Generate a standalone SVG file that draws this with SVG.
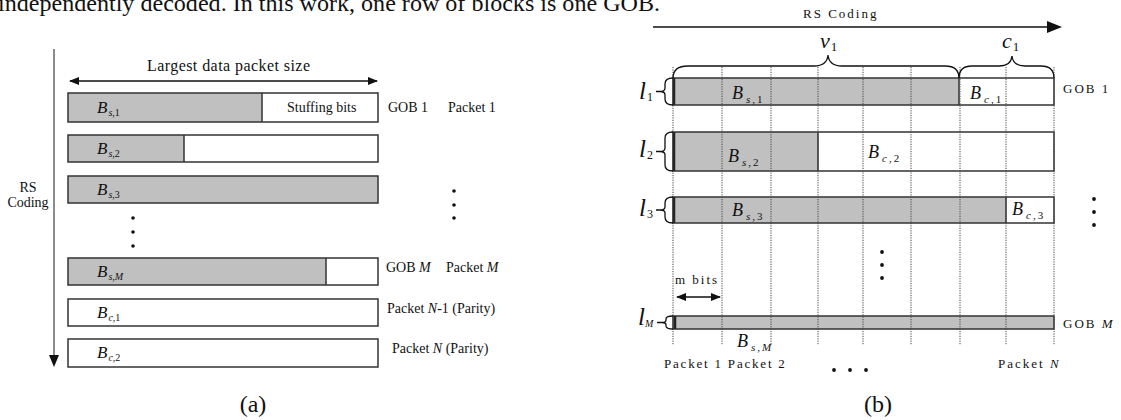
<svg xmlns="http://www.w3.org/2000/svg" width="1121" height="420" viewBox="0 0 1121 420">
<style>
text{font-family:"Liberation Serif","Times New Roman",serif;fill:#111}
.it{font-style:italic}
.lab{font-size:14px}
.lb{font-size:13px;letter-spacing:2px}
.g{fill:#c0c0c0;stroke:none}
.box{fill:none;stroke:#333;stroke-width:1.5}
.sep{stroke:#333;stroke-width:1.5}
.dot{stroke:#444;stroke-width:1;stroke-dasharray:1.2 1.2}
.br{fill:none;stroke:#111;stroke-width:1.3}
.ln{stroke:#111;stroke-width:1.3;fill:none}
</style>
<defs>
<marker id="ah" viewBox="0 0 10 8" refX="9" refY="4" markerWidth="10" markerHeight="8" markerUnits="userSpaceOnUse" orient="auto-start-reverse"><path d="M0,0 L10,4 L0,8 Z" fill="#111"/></marker>
</defs>
<rect width="1121" height="420" fill="#fff"/>
<text x="-2" y="11" font-size="24" textLength="662" lengthAdjust="spacingAndGlyphs">independently decoded. In this work, one row of blocks is one GOB.</text>

<!-- Panel (a) -->
<g id="a-connectors">
<line x1="70" y1="81" x2="377" y2="81" class="ln" marker-start="url(#ah)" marker-end="url(#ah)"/>
<line x1="54" y1="49" x2="54" y2="356" stroke="#666" stroke-width="1.5"/>
<path d="M49,355 L59,355 L54,367 Z" fill="#111"/>
</g>
<text x="147" y="71" font-size="16" textLength="163">Largest data packet size</text>
<text x="28" y="192" font-size="14" text-anchor="middle">RS</text>
<text x="28" y="207" font-size="14" text-anchor="middle">Coding</text>

<g id="a-row1">
<rect x="68" y="93" width="194" height="29" class="g"/>
<rect x="68" y="93" width="310" height="29" class="box"/>
<line x1="262" y1="93" x2="262" y2="122" class="sep"/>
<text x="97" y="113" font-size="17" class="it">B<tspan font-size="10" dy="3" dx="1">s,<tspan font-style="normal">1</tspan></tspan></text>
<text x="287" y="112" class="lab">Stuffing bits</text>
</g>
<g id="a-row2">
<rect x="68" y="135" width="116" height="27" class="g"/>
<rect x="68" y="135" width="310" height="27" class="box"/>
<line x1="184" y1="135" x2="184" y2="162" class="sep"/>
<text x="97" y="154" font-size="17" class="it">B<tspan font-size="10" dy="3" dx="1">s,<tspan font-style="normal">2</tspan></tspan></text>
</g>
<g id="a-row3">
<rect x="68" y="176" width="310" height="27" class="g"/>
<rect x="68" y="176" width="310" height="27" class="box"/>
<text x="97" y="195" font-size="17" class="it">B<tspan font-size="10" dy="3" dx="1">s,<tspan font-style="normal">3</tspan></tspan></text>
</g>
<g id="a-rowM">
<rect x="68" y="258" width="258" height="27" class="g"/>
<rect x="68" y="258" width="310" height="27" class="box"/>
<line x1="326" y1="258" x2="326" y2="285" class="sep"/>
<text x="97" y="277" font-size="17" class="it">B<tspan font-size="10" dy="3" dx="1">s,M</tspan></text>
</g>
<g id="a-rowc1">
<rect x="68" y="299" width="310" height="27" class="box"/>
<text x="97" y="318" font-size="17" class="it">B<tspan font-size="10" dy="3" dx="1">c,<tspan font-style="normal">1</tspan></tspan></text>
</g>
<g id="a-rowc2">
<rect x="68" y="339" width="310" height="28" class="box"/>
<text x="97" y="358" font-size="17" class="it">B<tspan font-size="10" dy="3" dx="1">c,<tspan font-style="normal">2</tspan></tspan></text>
</g>
<g id="a-labels">
<text x="388" y="112" class="lab">GOB 1</text>
<text x="448" y="112" class="lab">Packet 1</text>
<text x="386" y="272" class="lab">GOB <tspan class="it">M</tspan></text>
<text x="446" y="272" class="lab">Packet <tspan class="it">M</tspan></text>
<text x="387" y="313" class="lab">Packet <tspan class="it">N</tspan>-1 (Parity)</text>
<text x="392" y="353" class="lab">Packet <tspan class="it">N</tspan> (Parity)</text>
</g>
<g id="a-dots" fill="#111">
<circle cx="133" cy="218" r="1.8"/><circle cx="133" cy="232" r="1.8"/><circle cx="133" cy="246" r="1.8"/>
<circle cx="454" cy="191" r="1.8"/><circle cx="454" cy="205" r="1.8"/><circle cx="454" cy="218" r="1.8"/>
</g>
<text x="253" y="412" font-size="24" text-anchor="middle">(a)</text>

<!-- Panel (b) -->
<text x="803" y="18" font-size="13" letter-spacing="2">RS Coding</text>
<g id="b-connectors">
<line x1="653" y1="27" x2="1050" y2="27" stroke="#111" stroke-width="1.5"/>
<path d="M1047,21 L1062,27 L1047,33 Z" fill="#111"/>
<line x1="677" y1="297" x2="720" y2="297" class="ln" marker-start="url(#ah)" marker-end="url(#ah)"/>
</g>
<text x="675" y="284" class="lb">m bits</text>

<g id="b-row1">
<rect x="673" y="78" width="286" height="27" class="g"/>
<rect x="673" y="78" width="381" height="27" class="box"/>
<line x1="959" y1="78" x2="959" y2="105" class="sep"/>
<line x1="674" y1="78" x2="674" y2="105" stroke="#222" stroke-width="2.5"/>
</g>
<g id="b-row2">
<rect x="673" y="132" width="145" height="39" class="g"/>
<rect x="673" y="132" width="381" height="39" class="box"/>
<line x1="818" y1="132" x2="818" y2="171" class="sep"/>
<line x1="674" y1="132" x2="674" y2="171" stroke="#222" stroke-width="2.5"/>
</g>
<g id="b-row3">
<rect x="673" y="197" width="333" height="26" class="g"/>
<rect x="673" y="197" width="381" height="26" class="box"/>
<line x1="1006" y1="197" x2="1006" y2="223" class="sep"/>
<line x1="674" y1="197" x2="674" y2="223" stroke="#222" stroke-width="2.5"/>
</g>
<g id="b-rowM">
<rect x="673" y="316" width="381" height="13" class="g"/>
<rect x="673" y="316" width="381" height="13" class="box"/>
<line x1="675" y1="316" x2="675" y2="329" stroke="#222" stroke-width="2.5"/>
</g>

<g id="b-grid">
<line x1="673" y1="67" x2="673" y2="345" class="dot"/>
<line x1="722" y1="67" x2="722" y2="345" class="dot"/>
<line x1="771" y1="67" x2="771" y2="345" class="dot"/>
<line x1="818" y1="67" x2="818" y2="345" class="dot"/>
<line x1="863" y1="67" x2="863" y2="345" class="dot"/>
<line x1="911" y1="67" x2="911" y2="345" class="dot"/>
<line x1="960" y1="67" x2="960" y2="345" class="dot"/>
<line x1="1006" y1="67" x2="1006" y2="345" class="dot"/>
<line x1="1054" y1="67" x2="1054" y2="345" class="dot"/>
</g>

<g id="b-braces">
<path class="br" d="M673,78 Q673,66 688,66 L814,66 Q827,66 828,55 Q829,66 842,66 L945,66 Q959,66 959,78"/>
<path class="br" d="M959,78 Q959,66 972,66 L999,66 Q1011,66 1012,56 Q1013,66 1025,66 L1041,66 Q1054,66 1054,78"/>
<path class="br" d="M673,78 Q665,78 665,84 L665,88 Q665,91.5 660,91.5 L656,91.5 M660,91.5 Q665,91.5 665,95 L665,99 Q665,105 673,105"/>
<path class="br" d="M673,132 Q665,132 665,138 L665,148 Q665,151.5 660,151.5 L656,151.5 M660,151.5 Q665,151.5 665,155 L665,165 Q665,171 673,171"/>
<path class="br" d="M673,197 Q665,197 665,203 L665,207 Q665,210 660,210 L656,210 M660,210 Q665,210 665,213 L665,217 Q665,223 673,223"/>
<path class="br" d="M673,316 Q666,316 666,319 L666,320 Q666,322.5 662,322.5 L657,322.5 M662,322.5 Q666,322.5 666,325 L666,326 Q666,329 673,329"/>
</g>

<g id="b-labels">
<text x="820" y="48" font-size="22" class="it">v<tspan font-size="13" font-style="normal" dy="3" dx="1">1</tspan></text>
<text x="1002" y="48" font-size="22" class="it">c<tspan font-size="13" font-style="normal" dy="3" dx="1">1</tspan></text>
<text x="639" y="99" font-size="25" class="it">l<tspan font-size="12" font-style="normal" dy="2" dx="1">1</tspan></text>
<text x="639" y="157" font-size="25" class="it">l<tspan font-size="12" font-style="normal" dy="2" dx="1">2</tspan></text>
<text x="639" y="216" font-size="25" class="it">l<tspan font-size="12" font-style="normal" dy="2" dx="1">3</tspan></text>
<text x="638" y="325" font-size="25" class="it">l<tspan font-size="10" dy="2" dx="0">M</tspan></text>
<text x="732" y="99" font-size="18" class="it">B<tspan font-size="11" dy="4" dx="3" letter-spacing="2">s,<tspan font-style="normal">1</tspan></tspan></text>
<text x="728" y="162" font-size="18" class="it">B<tspan font-size="11" dy="4" dx="3" letter-spacing="2">s,<tspan font-style="normal">2</tspan></tspan></text>
<text x="732" y="216" font-size="18" class="it">B<tspan font-size="11" dy="4" dx="3" letter-spacing="2">s,<tspan font-style="normal">3</tspan></tspan></text>
<text x="737" y="347" font-size="18" class="it">B<tspan font-size="11" dy="4" dx="3" letter-spacing="2">s,M</tspan></text>
<text x="970" y="99" font-size="18" class="it">B<tspan font-size="11" dy="4" dx="3" letter-spacing="2">c,<tspan font-style="normal">1</tspan></tspan></text>
<text x="868" y="158" font-size="18" class="it">B<tspan font-size="11" dy="4" dx="3" letter-spacing="2">c,<tspan font-style="normal">2</tspan></tspan></text>
<text x="1012" y="215" font-size="18" class="it">B<tspan font-size="11" dy="4" dx="3" letter-spacing="2">c,<tspan font-style="normal">3</tspan></tspan></text>
<text x="1063" y="93" class="lb">GOB 1</text>
<text x="1063" y="328" class="lb">GOB <tspan class="it">M</tspan></text>
<text x="664" y="368" font-size="13" letter-spacing="1.8">Packet 1 Packet 2</text>
<text x="998" y="368" class="lb">Packet <tspan class="it">N</tspan></text>
</g>
<g id="b-dots" fill="#111">
<circle cx="1094" cy="199" r="1.9"/><circle cx="1094" cy="212" r="1.9"/><circle cx="1094" cy="225" r="1.9"/>
<circle cx="882" cy="252" r="1.9"/><circle cx="882" cy="265" r="1.9"/><circle cx="882" cy="278" r="1.9"/>
<circle cx="834" cy="370" r="1.9"/><circle cx="850" cy="370" r="1.9"/><circle cx="866" cy="370" r="1.9"/>
</g>
<text x="878" y="412" font-size="24" text-anchor="middle">(b)</text>
</svg>
